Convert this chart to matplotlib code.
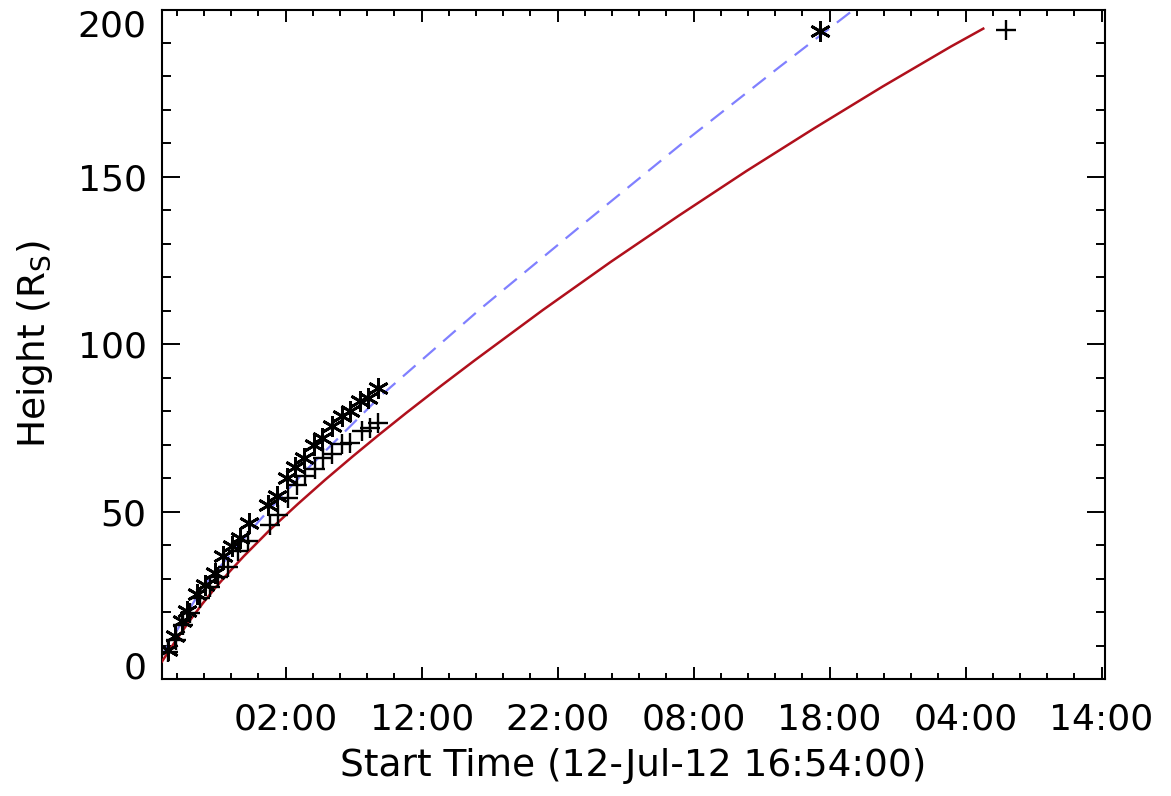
from datetime import datetime, timedelta

import matplotlib
matplotlib.use("Agg")
import matplotlib.pyplot as plt
import numpy as np
from matplotlib.ticker import FixedLocator, FuncFormatter

START = datetime(2012, 7, 12, 16, 54, 0)

# hours after START, height in solar radii
star_hours = [0.46, 0.96, 1.45, 1.86, 2.55, 3.16, 3.90, 4.51, 5.13, 5.74, 6.42,
              7.82, 8.43, 9.17, 9.78, 10.44, 11.18, 11.79, 12.48, 13.21, 13.82,
              14.56, 15.17, 15.90, 48.38]
star_height = [8.7, 12.7, 17.2, 20.2, 25.4, 28.1, 31.8, 36.6, 39.6, 42.1, 46.6,
               52.1, 54.8, 60.1, 63.4, 66.1, 69.8, 72.1, 75.5, 78.7, 80.0,
               83.0, 84.0, 87.0, 193.7]

plus_hours = [0.44, 1.03, 1.57, 2.06, 2.79, 3.53, 4.14, 4.88, 5.61, 6.35, 7.94,
              8.55, 9.26, 9.93, 10.51, 11.25, 11.86, 12.50, 13.21, 13.82, 14.68,
              15.29, 15.90, 62.06]
plus_height = [8.1, 11.7, 16.2, 19.7, 24.2, 27.6, 30.6, 33.6, 38.1, 41.1, 46.1,
               49.1, 54.2, 58.1, 60.6, 62.6, 66.1, 67.1, 70.1, 70.6, 74.0,
               75.1, 76.6, 194.0]

# dashed fit through the asterisks
fit_star_hours = [-0.1, 3.0, 7.2, 10.5, 16.2, 23.4, 30.7, 38.1, 45.4, 51.2]
fit_star_height = [6.3, 27.5, 47.5, 62.0, 85.0, 110.5, 135.0, 159.5, 182.8, 201.0]

# solid model curve
model_hours = [0.0, 1.0, 2.0, 3.0, 4.0, 5.0, 6.0, 8.0, 10.0, 12.0, 14.0, 16.0,
               18.0, 20.5, 23.0, 28.0, 33.0, 38.0, 43.0, 48.0, 53.0, 58.0, 60.4]
model_height = [5.2, 11.4, 17.2, 22.6, 27.6, 32.2, 36.6, 44.8, 52.3, 59.5, 66.4,
                73.1, 79.6, 87.5, 95.2, 110.2, 124.6, 138.4, 151.8, 164.6,
                177.0, 188.9, 194.3]

X_MAX = 69.35
Y_MAX = 200
FIRST_MAJOR = 9.1  # 02:00 on 13-Jul


def time_label(h, pos):
    return (START + timedelta(hours=h)).strftime("%H:%M")


def main():
    plt.rcParams["font.family"] = ["DejaVu Sans"]
    plt.rcParams["mathtext.default"] = "regular"

    fig = plt.figure(figsize=(11.71, 7.96), dpi=100)
    ax = fig.add_axes([0.1383, 0.147, 0.8053, 0.841])

    ax.plot(fit_star_hours, fit_star_height, color="#8080ff", lw=1.6,
            dashes=(7.5, 4.5), zorder=2)
    ax.plot(model_hours, model_height, color="#b0101c", lw=1.8, zorder=3)
    ax.plot(star_hours, star_height, ls="none", marker=(6, 2, 0), ms=15,
            mew=2.0, color="black", zorder=4)
    ax.plot(plus_hours, plus_height, ls="none", marker="+", ms=14,
            mew=1.7, color="black", zorder=4)

    ax.set_xlim(0, X_MAX)
    ax.set_ylim(0, Y_MAX)

    ax.xaxis.set_major_locator(FixedLocator(np.arange(FIRST_MAJOR, X_MAX, 10)))
    ax.xaxis.set_minor_locator(FixedLocator(np.arange(FIRST_MAJOR - 8, X_MAX, 2)))
    ax.xaxis.set_major_formatter(FuncFormatter(time_label))
    ax.yaxis.set_major_locator(FixedLocator(np.arange(0, Y_MAX + 1, 50)))
    ax.yaxis.set_minor_locator(FixedLocator(np.arange(0, Y_MAX + 1, 10)))

    ax.tick_params(which="both", direction="in", top=True, right=True,
                   width=1.4, labelsize=26)
    ax.tick_params(axis="x", which="major", length=8.6, pad=17)
    ax.tick_params(axis="x", which="minor", length=4.3)
    ax.tick_params(axis="y", which="major", length=13, pad=11)
    ax.tick_params(axis="y", which="minor", length=6.5)
    for sp in ax.spines.values():
        sp.set_linewidth(1.5)

    # end labels sit inside the axis range, as in the original
    ylabels = ax.get_yticklabels()
    ylabels[0].set_verticalalignment("baseline")
    ylabels[-1].set_verticalalignment("top")

    ax.set_xlabel("Start Time (12-Jul-12 16:54:00)", fontsize=27, labelpad=8)
    ax.set_ylabel("Height (R$_S$)", fontsize=27, labelpad=16)

    fig.savefig("out.png", dpi=100)
    plt.close(fig)


if __name__ == "__main__":
    main()
